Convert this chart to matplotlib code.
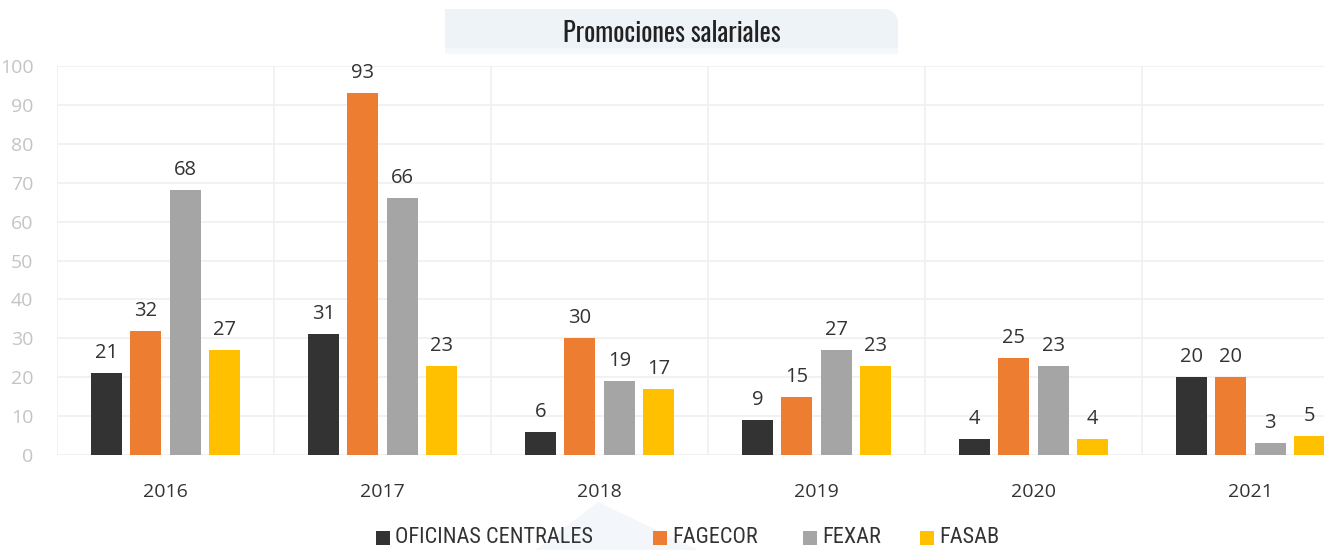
import matplotlib.pyplot as plt
from matplotlib.patches import Polygon, Rectangle
import numpy as np

# promociones por año y por unidad
years = ["2016", "2017", "2018", "2019", "2020", "2021"]
series_names = ["OFICINAS CENTRALES", "FAGECOR", "FEXAR", "FASAB"]
oficinas = [21, 31, 6, 9, 4, 20]
fagecor = [32, 93, 30, 15, 25, 20]
fexar = [68, 66, 19, 27, 23, 3]
fasab = [27, 23, 17, 23, 4, 5]
y_ticks = [0, 10, 20, 30, 40, 50, 60, 70, 80, 90, 100]

colors = ["#333333", "#ED7D31", "#A5A5A5", "#FFC000"]
values = [oficinas, fagecor, fexar, fasab]

TITLE_FONT = ["Oswald", "Roboto Condensed", "DejaVu Sans"]
LEGEND_FONT = ["Roboto Condensed", "Archivo Narrow", "DejaVu Sans"]

W, H = 1324, 550
fig = plt.figure(figsize=(W / 100, H / 100), dpi=100)


def px(x, y):
    # pixel position from top-left -> figure fraction
    return (x / W, (H - y) / H)


# axes runs past the right edge, last group gets cut
ax = fig.add_axes([57 / W, 95 / H, 1302 / W, 389 / H])

x = np.arange(len(years))
bar_w = 0.143
step = 0.182
for i, (vals, col) in enumerate(zip(values, colors)):
    pos = x + (i - 1.5) * step
    ax.bar(pos, vals, width=bar_w, color=col, zorder=3)
    for bx, v in zip(pos, vals):
        ax.annotate(str(v), (bx, v), xytext=(0, 10), textcoords="offset pixels",
                    ha="center", va="bottom", fontsize=14.5, color="#333333",
                    family="Open Sans")

ax.set_xlim(-0.5, len(years) - 0.5)
ax.set_ylim(0, 100)
ax.set_yticks(y_ticks)
ax.set_yticklabels([str(t) for t in y_ticks], family="Open Sans", fontsize=14,
                   color="#c4c4c4")
ax.set_xticks(x)
ax.set_xticklabels(years, family="Open Sans", fontsize=14, color="#333333")
ax.tick_params(axis="y", length=0, pad=17)
ax.tick_params(axis="x", which="both", length=0, pad=20)

# light grid: horizontal at ticks, vertical between years
ax.set_xticks(np.arange(-0.5, len(years), 1), minor=True)
ax.grid(axis="y", color="#f0f0f0", lw=1.2, zorder=0)
ax.grid(axis="x", which="minor", color="#f0f0f0", lw=1.2, zorder=0)
ax.grid(axis="x", which="major", visible=False)
for s in ax.spines.values():
    s.set_visible(False)

# title box, only the top-right corner is rounded
r = 14
left, right, top, bottom = 445, 898, 9, 48
ang = np.linspace(np.pi / 2, 0, 12)
outline = [(left, bottom), (left, top)]
outline += [(right - r + r * np.cos(a), top + r - r * np.sin(a)) for a in ang]
outline += [(right, bottom)]
fig.patches.append(Polygon([px(*p) for p in outline], closed=True,
                           transform=fig.transFigure, facecolor="#eef3f8",
                           edgecolor="none", zorder=0))
fig.patches.append(Rectangle(px(left, 54), (right - left) / W, 6 / H,
                             transform=fig.transFigure, facecolor="#f4f8fb",
                             edgecolor="none", zorder=0))
fig.text(*px(672, 33), "Promociones salariales", ha="center", va="center",
         fontsize=19, color="#222222", family=TITLE_FONT)

# faint arrow shape behind the legend
fig.patches.append(Polygon([px(536, 550), px(598, 502), px(698, 550)], closed=True,
                           transform=fig.transFigure, facecolor="#f3f7fb",
                           edgecolor="none", zorder=0))

# legend row along the bottom, each entry at its own slot
legend_x = [376, 653, 803, 920]
sq = 14
for lx, name, col in zip(legend_x, series_names, colors):
    fig.patches.append(Rectangle(px(lx, 538 + sq / 2), sq / W, sq / H,
                                 transform=fig.transFigure, facecolor=col,
                                 edgecolor="none"))
    fig.text(*px(lx + sq + 5, 537.5), name, ha="left", va="center",
             fontsize=16, color="#333333", family=LEGEND_FONT)

fig.savefig("out.png", dpi=100)
